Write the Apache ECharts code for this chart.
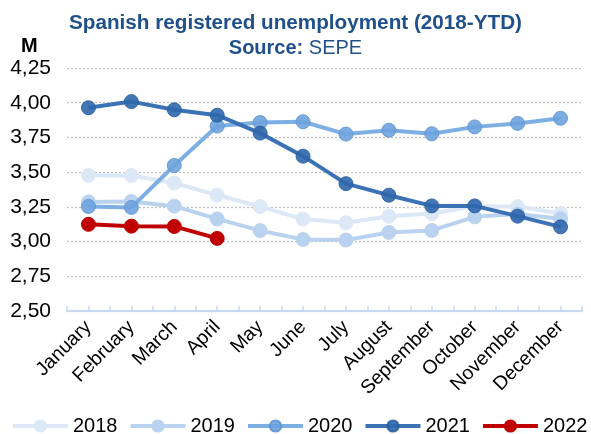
<!DOCTYPE html>
<html>
<head>
<meta charset="utf-8">
<script src="https://cdn.jsdelivr.net/npm/echarts@6/dist/echarts.min.js"></script>
<style>
html,body{margin:0;padding:0;background:#fff;}
#chart{width:591px;height:434px;}
</style>
</head>
<body>
<div id="chart"></div>
<script>
const months = ['January','February','March','April','May','June','July','August','September','October','November','December'];
const yearNames = ['2018','2019','2020','2021','2022'];
const y2018 = [3.477,3.476,3.422,3.335,3.252,3.162,3.135,3.182,3.202,3.254,3.252,3.202];
const y2019 = [3.285,3.289,3.255,3.163,3.079,3.015,3.011,3.066,3.080,3.178,3.198,3.164];
const y2020 = [3.253,3.246,3.548,3.832,3.857,3.863,3.774,3.802,3.776,3.826,3.851,3.888];
const y2021 = [3.964,4.008,3.949,3.910,3.781,3.615,3.417,3.334,3.257,3.257,3.183,3.106];
const y2022 = [3.124,3.111,3.109,3.023];
const halfTicks = months.flatMap(m => [m + 'a', m + 'b']);

const lineColors = ['#dde8f7','#b9d2ef','#7dafe4','#3b72b5','#c00000'];
const markColors = ['#dde8f7','#b9d2ef','#6fa3de','#2f67ac','#c00000'];
const borderColors = ['#dde8f7','#b9d2ef','#5f95d4','#2a5f9f','#c00000'];
const seriesData = [y2018, y2019, y2020, y2021, y2022];

const font = 'Liberation Sans, Arial, sans-serif';
const chart = echarts.init(document.getElementById('chart'));
chart.setOption({
  animation: false,
  textStyle: { fontFamily: font },
  title: [{
    text: 'Spanish registered unemployment (2018-YTD)',
    left: 'center', top: 8,
    textStyle: { fontFamily: font, fontSize: 20.7, fontWeight: 'bold', color: '#1f5089' }
  }, {
    text: '{b|Source:} {n|SEPE}',
    left: 'center', top: 33,
    textStyle: {
      fontWeight: 'normal', fontSize: 20, color: '#1f5089',
      rich: {
        b: { fontFamily: font, fontSize: 20, fontWeight: 'bold', color: '#1f5089' },
        n: { fontFamily: font, fontSize: 20, fontWeight: 'normal', color: '#1f5089' }
      }
    }
  }, {
    text: 'M', left: 16, top: 31,
    textStyle: { fontFamily: font, fontSize: 20, fontWeight: 'bold', color: '#000' }
  }],
  legend: {
    top: 416, left: 11, padding: 0, width: 585,
    itemWidth: 55, itemHeight: 14, itemGap: 11,
    lineStyle: { width: 4 },
    textStyle: { fontFamily: font, fontSize: 20, color: '#000' },
    data: yearNames
  },
  grid: { left: 67, right: 9, top: 68, bottom: 123 },
  xAxis: [{
    type: 'category', data: months, boundaryGap: true,
    axisLine: { show: true, lineStyle: { color: '#c6d9f1', width: 2 } },
    axisTick: { show: false },
    axisLabel: { rotate: 45, fontSize: 19.5, color: '#000', margin: 13, interval: 0, fontFamily: font }
  }, {
    type: 'category', data: halfTicks, boundaryGap: true, position: 'bottom',
    axisLine: { show: false },
    axisTick: { show: true, inside: true, length: 5, interval: 0, lineStyle: { color: '#c6d9f1', width: 1.5 } },
    axisLabel: { show: false }
  }],
  yAxis: {
    type: 'value', min: 2.5, max: 4.25, interval: 0.25,
    axisLine: { show: false }, axisTick: { show: false },
    splitLine: { show: true, lineStyle: { color: '#bfbfbf', type: [2, 2], width: 1.3 } },
    axisLabel: {
      fontSize: 21, color: '#000', margin: 16, fontFamily: font,
      formatter: v => v.toFixed(2).replace('.', ',')
    }
  },
  series: seriesData.map((d, i) => ({
    name: yearNames[i], type: 'line', data: d, xAxisIndex: 0,
    symbol: 'circle', symbolSize: 14,
    lineStyle: { color: lineColors[i], width: 4 },
    itemStyle: { color: markColors[i], borderColor: borderColors[i], borderWidth: 1, opacity: i === 2 || i === 3 ? 0.9 : 1 },
    emphasis: { disabled: true },
    z: 2 + i
  }))
});
</script>
</body>
</html>
